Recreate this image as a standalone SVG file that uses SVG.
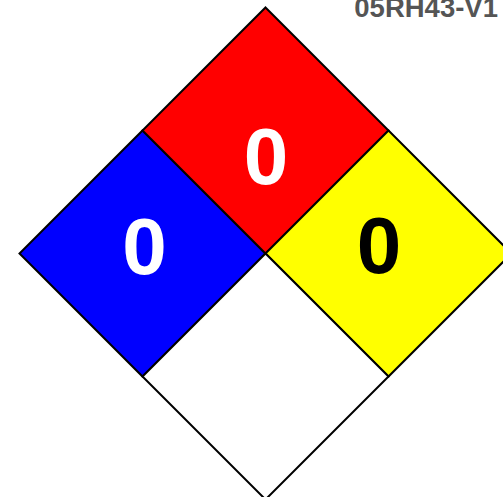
<svg xmlns="http://www.w3.org/2000/svg" width="503" height="497" viewBox="0 0 503 497">
<style>
.q{stroke:#000;stroke-width:2;stroke-linejoin:miter}
.n{font-family:"Liberation Sans",Arial,sans-serif;font-weight:bold;font-size:80px;text-anchor:middle}
.id{font-family:"Liberation Sans",Arial,sans-serif;font-weight:bold;font-size:27.5px;fill:#555;text-anchor:end}
</style>
<rect width="503" height="497" fill="#fff"/>
<g id="health">
<polygon class="q" fill="#0000ff" points="142.5,130.5 265.5,253.5 142.5,376.5 19.5,253.5"/>
<text class="n" x="144.5" y="273.5" fill="#fff">0</text>
</g>
<g id="flammability">
<polygon class="q" fill="#ff0000" points="265.5,7.5 388.5,130.5 265.5,253.5 142.5,130.5"/>
<text class="n" x="266" y="183.5" fill="#fff">0</text>
</g>
<g id="instability">
<polygon class="q" fill="#ffff00" points="388.5,130.5 511.5,253.5 388.5,376.5 265.5,253.5"/>
<text class="n" x="379" y="272.5" fill="#000">0</text>
</g>
<g id="special">
<polygon class="q" fill="#fff" points="265.5,253.5 388.5,376.5 265.5,499.5 142.5,376.5"/>
</g>
<g id="connectors"/>
<text class="id" x="498" y="17">05RH43-V1</text>
</svg>
